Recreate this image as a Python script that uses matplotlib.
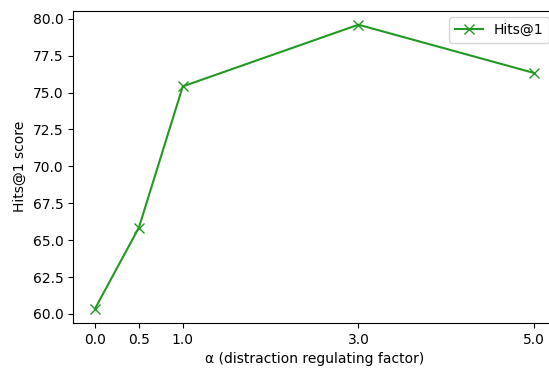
import numpy as np
import matplotlib
matplotlib.use('Agg')
import matplotlib.pyplot as plt

# alpha values and Hits@1 scores
alphas = [0.0, 0.5, 1.0, 3.0, 5.0]
hits1 = [60.35, 65.85, 75.42, 79.6, 76.33]
xtick_labels = ['0.0', '0.5', '1.0', '3.0', '5.0']

fig = plt.figure(figsize=(5.49, 3.71), dpi=100)
# original is cropped on the right, so the axes run past the figure edge
ax = fig.add_axes([73/549, 1 - 323/371, (556 - 73)/549, (323 - 10.5)/371])

ax.plot(alphas, hits1, color='#229922', marker='x', markersize=6.5, lw=1.5, label='Hits@1')
ax.set_xticks(alphas)
ax.set_xticklabels(xtick_labels)
ax.set_xlabel('\u03b1 (distraction regulating factor)')
ax.set_ylabel('Hits@1 score')
ax.legend(loc='upper right')

fig.savefig('out.png', dpi=100)
